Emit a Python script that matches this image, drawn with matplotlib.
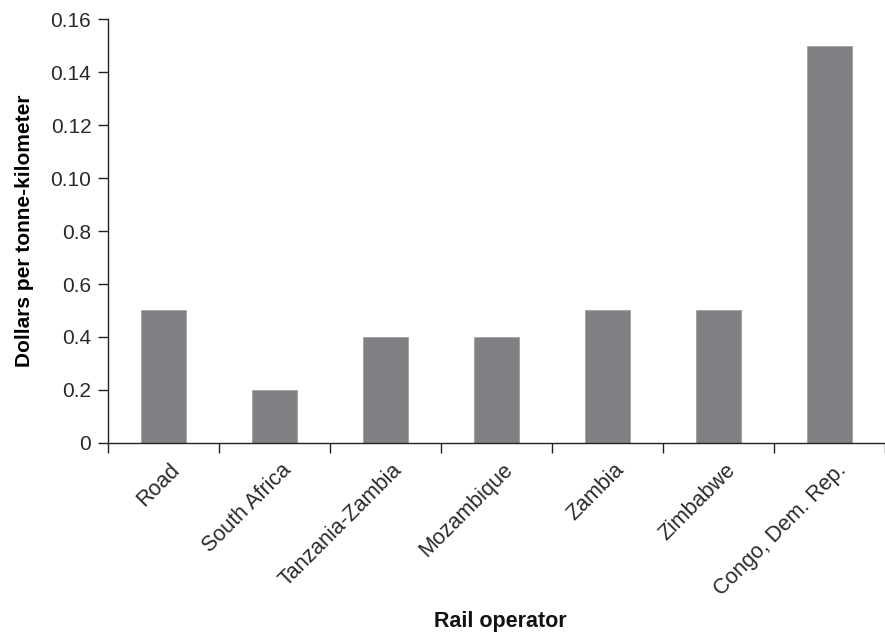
import matplotlib.pyplot as plt
import matplotlib.transforms as mtransforms
import numpy as np

plt.rcParams['font.family'] = ['Liberation Sans', 'DejaVu Sans']

# Data
operators = ['Road', 'South Africa', 'Tanzania-Zambia', 'Mozambique',
             'Zambia', 'Zimbabwe', 'Congo, Dem. Rep.']
cost = [0.05, 0.02, 0.04, 0.04, 0.05, 0.05, 0.15]
ytick_values = [0, 0.02, 0.04, 0.06, 0.08, 0.10, 0.12, 0.14, 0.16]
ytick_labels = ['0', '0.2', '0.4', '0.6', '0.8', '0.10', '0.12', '0.14', '0.16']

fig = plt.figure(figsize=(8.85, 6.35), dpi=100)
ax = fig.add_axes([0.122, 0.3024, 0.878, 0.6676])

x = np.arange(len(operators))
ax.bar(x, cost, width=0.4, color='#808184', edgecolor='#a0a1a3', linewidth=0.6)

ax.set_xlim(-0.5, 6.44)
ax.set_ylim(0, 0.16)

# y axis
ax.set_yticks(ytick_values)
ax.set_yticklabels(ytick_labels, fontsize=15, color='#2a2a2a')
ax.tick_params(axis='y', direction='out', length=7, width=1, color='#222222', pad=5)

# x axis: labels at bar centres, tick marks at category boundaries
ax.set_xticks(x)
ax.set_xticklabels(operators, rotation=45, ha='right', va='top',
                   rotation_mode='anchor', fontsize=15.5, color='#2a2a2a')
ax.tick_params(axis='x', which='major', length=0, pad=12)
shift = mtransforms.ScaledTranslation(6 / 100, 0, fig.dpi_scale_trans)
for lbl in ax.get_xticklabels():
    lbl.set_transform(lbl.get_transform() + shift)
ax.set_xticks(np.arange(-0.5, len(operators), 1), minor=True)
ax.tick_params(axis='x', which='minor', direction='out', length=7, width=1, color='#222222')

for side in ['top', 'right']:
    ax.spines[side].set_visible(False)
for side in ['left', 'bottom']:
    ax.spines[side].set_color('#222222')
    ax.spines[side].set_linewidth(1)

ax.set_ylabel('Dollars per tonne-kilometer', fontsize=15, fontweight='bold', labelpad=12)
fig.text(0.565, 0.004, 'Rail operator', fontsize=15.5, fontweight='bold',
         ha='center', va='bottom', color='#111111')

fig.savefig('out.png', dpi=100)
